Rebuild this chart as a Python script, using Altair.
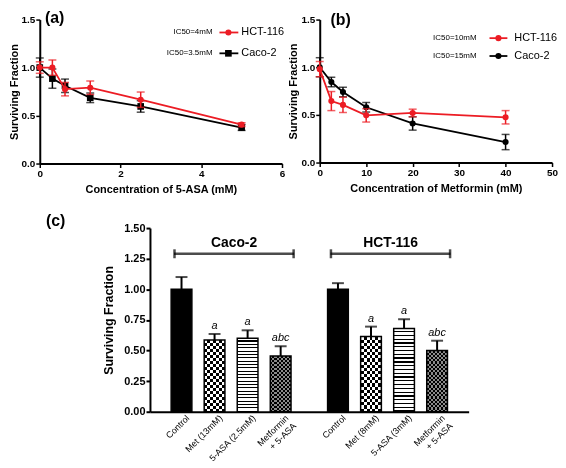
import altair as alt
import pandas as pd

FONT = "Liberation Sans"
RED = "#ec1c24"

# ---------------- data ----------------
# (a) 5-ASA
asa_conc = [0, 0.3125, 0.625, 1.25, 2.5, 5]
asa_hct = [1.00, 1.00, 0.775, 0.79, 0.665, 0.405]
asa_hct_err = [0.06, 0.08, 0.07, 0.07, 0.08, 0.02]
asa_caco = [1.00, 0.885, 0.81, 0.685, 0.595, 0.375]
asa_caco_err = [0.10, 0.10, 0.07, 0.05, 0.06, 0.03]

# (b) Metformin
met_conc = [0, 2.5, 5, 10, 20, 40]
met_hct = [0.98, 0.645, 0.605, 0.495, 0.52, 0.475]
met_hct_err = [0.08, 0.10, 0.08, 0.07, 0.04, 0.07]
met_caco = [1.00, 0.845, 0.74, 0.58, 0.41, 0.215]
met_caco_err = [0.10, 0.05, 0.05, 0.05, 0.07, 0.08]

# (c) combination
lines_c = ["Caco-2", "HCT-116"]
treat_labels_caco = ["Control", "Met (13mM)", "5-ASA (2.5mM)", "Metformin\n+ 5-ASA"]
treat_labels_hct = ["Control", "Met (8mM)", "5-ASA (3mM)", "Metformin\n+ 5-ASA"]
caco_vals = [1.00, 0.585, 0.60, 0.455]
caco_errs = [0.10, 0.05, 0.065, 0.08]
hct_vals = [1.00, 0.615, 0.68, 0.50]
hct_errs = [0.05, 0.08, 0.075, 0.08]
sig_letters = ["", "a", "a", "abc"]


# ---------------- helpers ----------------
def err_df(conc, vals, errs, name):
    return pd.DataFrame({
        "conc": conc,
        "value": vals,
        "lo": [v - e for v, e in zip(vals, errs)],
        "hi": [v + e for v, e in zip(vals, errs)],
        "line": name,
    })


def one(text):
    return pd.DataFrame({"t": [text]})


def line_panel(conc, series, W, H, xdom, xticks, xtitle, tag, tag_xy, legend_rows, lg):
    def X(f):
        return alt.X(f + ":Q", scale=alt.Scale(domain=xdom, nice=False, zero=False),
                     axis=alt.Axis(values=xticks, format="d", title=xtitle,
                                   labelFontWeight="bold", labelFontSize=10, titleFontSize=11,
                                   titleFontWeight="bold", tickSize=4, tickWidth=1.5,
                                   domainWidth=2, labelPadding=1, titlePadding=5,
                                   labelFlush=False))

    def Y(f):
        return alt.Y(f + ":Q", scale=alt.Scale(domain=[0, 1.5], nice=False),
                     axis=alt.Axis(values=[0, 0.5, 1.0, 1.5], format=".1f",
                                   title="Surviving Fraction",
                                   labelFontWeight="bold", labelFontSize=10, titleFontSize=11,
                                   titleFontWeight="bold", tickSize=4, tickWidth=1.5,
                                   domainWidth=2, labelPadding=1, titlePadding=2))

    layers = []
    for name, vals, errs, color, shape, psize in series:
        base = alt.Chart(err_df(conc, vals, errs, name))
        layers.append(base.mark_rule(color=color, strokeWidth=1.5).encode(x=X("conc"), y=Y("lo"), y2="hi:Q"))
        layers.append(base.mark_tick(orient="horizontal", size=8, thickness=1.5, color=color)
                      .encode(x=X("conc"), y=Y("lo")))
        layers.append(base.mark_tick(orient="horizontal", size=8, thickness=1.5, color=color)
                      .encode(x=X("conc"), y=Y("hi")))
        layers.append(base.mark_line(color=color, strokeWidth=1.8).encode(x=X("conc"), y=Y("value")))
        layers.append(base.mark_point(filled=True, shape=shape, size=psize, color=color, opacity=1)
                      .encode(x=X("conc"), y=Y("value")))

    # panel tag
    layers.append(alt.Chart(one(tag)).mark_text(font=FONT, fontSize=16, fontWeight="bold",
                                                align="center", baseline="middle", color="black")
                  .encode(text="t:N", x=alt.value(tag_xy[0]), y=alt.value(tag_xy[1])))

    # legend
    for (ic, name, color, shape, psize), ly in zip(legend_rows, lg["rows"]):
        layers.append(alt.Chart(one(ic)).mark_text(font=FONT, fontSize=8, align="right",
                                                   baseline="middle", color="black")
                      .encode(text="t:N", x=alt.value(lg["ic"]), y=alt.value(ly)))
        layers.append(alt.Chart(one(name)).mark_rule(color=color, strokeWidth=1.8)
                      .encode(x=alt.value(lg["l1"]), x2=alt.value(lg["l2"]), y=alt.value(ly)))
        layers.append(alt.Chart(one(name)).mark_point(filled=True, shape=shape, size=psize,
                                                      color=color, opacity=1)
                      .encode(x=alt.value(lg["m"]), y=alt.value(ly)))
        layers.append(alt.Chart(one(name)).mark_text(font=FONT, fontSize=11, align="left",
                                                     baseline="middle", color="black")
                      .encode(text="t:N", x=alt.value(lg["n"]), y=alt.value(ly)))

    return alt.layer(*layers).properties(width=W, height=H)


# ---------------- panel (a) ----------------
A_W, A_H = 244, 145
panel_a = line_panel(
    asa_conc,
    [("Caco-2", asa_caco, asa_caco_err, "black", "square", 45),
     ("HCT-116", asa_hct, asa_hct_err, RED, "circle", 38)],
    A_W, A_H, [0, 6], [0, 2, 4, 6], "Concentration of 5-ASA (mM)",
    "(a)", (15, -2),
    [("IC50=4mM", "HCT-116", RED, "circle", 38),
     ("IC50=3.5mM", "Caco-2", "black", "square", 45)],
    {"rows": [13, 34], "ic": A_W - 70, "l1": A_W - 63, "l2": A_W - 44, "m": A_W - 54, "n": A_W - 41},
)

# ---------------- panel (b) ----------------
B_W, B_H = 234, 144
panel_b = line_panel(
    met_conc,
    [("Caco-2", met_caco, met_caco_err, "black", "circle", 38),
     ("HCT-116", met_hct, met_hct_err, RED, "circle", 38)],
    B_W, B_H, [0, 50], [0, 10, 20, 30, 40, 50], "Concentration of Metformin (mM)",
    "(b)", (21, 0),
    [("IC50=10mM", "HCT-116", RED, "circle", 38),
     ("IC50=15mM", "Caco-2", "black", "circle", 38)],
    {"rows": [18.7, 36.7], "ic": B_W - 76, "l1": B_W - 63, "l2": B_W - 45, "m": B_W - 54, "n": B_W - 38},
)

# ---------------- panel (c) ----------------
rows = []
for line, labels, vals, errs in [("Caco-2", treat_labels_caco, caco_vals, caco_errs),
                                 ("HCT-116", treat_labels_hct, hct_vals, hct_errs)]:
    for i, (lab, v, e) in enumerate(zip(labels, vals, errs)):
        rows.append({"line": line, "treat": i, "label": lab, "value": v, "hi": v + e,
                     "sig": sig_letters[i]})
dc = pd.DataFrame(rows)

C_W, C_H = 321, 185

XC = alt.X("line:N", scale=alt.Scale(domain=lines_c, paddingInner=0.155, paddingOuter=0.096),
           axis=alt.Axis(labels=False, ticks=False, title=None, domainWidth=2, domainColor="black"))
XO = alt.XOffset("treat:O", scale=alt.Scale(domain=[0, 1, 2, 3], paddingInner=0.373, paddingOuter=0.1866))

YC_SCALE = alt.Scale(domain=[0, 1.5], nice=False)
YC_AXIS = alt.Axis(values=[0, 0.25, 0.5, 0.75, 1.0, 1.25, 1.5], format=".2f",
                   title="Surviving Fraction", labelFontWeight="bold", labelFontSize=11,
                   titleFontSize=12.5, titleFontWeight="bold", tickSize=4, tickWidth=2,
                   domainWidth=2, labelPadding=1, titlePadding=8)


def YC(f):
    return alt.Y(f + ":Q", scale=YC_SCALE, axis=YC_AXIS)


BRACKET_Y = alt.YDatum(1.29, scale=YC_SCALE, axis=YC_AXIS)


def stripes(colors, n, horizontal=True):
    stops = []
    for k in range(n):
        c = colors[k % len(colors)]
        stops.append(alt.GradientStop(color=c, offset=k / n))
        stops.append(alt.GradientStop(color=c, offset=(k + 1) / n))
    if horizontal:
        return alt.LinearGradient(gradient="linear", stops=stops, x1=0, x2=0, y1=0, y2=1)
    return alt.LinearGradient(gradient="linear", stops=stops, x1=0, x2=1, y1=0, y2=0)


CLEAR = "rgba(0,0,0,0)"
cbase = alt.Chart(dc)
enc = dict(x=XC, xOffset=XO, y=YC("value"))
c_layers = [
    cbase.transform_filter("datum.treat == 0").mark_bar(color="black").encode(**enc),
    cbase.transform_filter("datum.treat == 1").mark_bar(fill=stripes(["black", "white"], 24)).encode(**enc),
    cbase.transform_filter("datum.treat == 1").mark_bar(fill=stripes(["white", CLEAR], 7, False),
                                                       blend="difference").encode(**enc),
    cbase.transform_filter("datum.treat == 2").mark_bar(fill=stripes(["white", "white", "black"], 66)).encode(**enc),
    cbase.transform_filter("datum.treat == 3").mark_bar(fill=stripes(["black", "#8c8c8c"], 28)).encode(**enc),
    cbase.transform_filter("datum.treat == 3").mark_bar(fill=stripes(["#8c8c8c", CLEAR], 10, False),
                                                       blend="difference").encode(**enc),
    cbase.mark_bar(fillOpacity=0, stroke="black", strokeWidth=1.5).encode(**enc),
    cbase.mark_rule(color="black", strokeWidth=2).encode(x=XC, xOffset=XO, y=YC("value"), y2="hi:Q"),
    cbase.mark_tick(orient="horizontal", size=12, thickness=2, color="black")
    .encode(x=XC, xOffset=XO, y=YC("hi")),
    cbase.mark_text(font=FONT, fontStyle="italic", fontSize=11, dy=-8, baseline="middle", color="black")
    .encode(x=XC, xOffset=XO, y=YC("hi"), text="sig:N"),
    cbase.mark_text(font=FONT, fontSize=9, angle=315, align="right", baseline="middle",
                    dx=1, dy=8, lineBreak="\n", color="black")
    .encode(x=XC, xOffset=XO, y=alt.value(C_H), text="label:N"),
]

bk = alt.Chart(pd.DataFrame({"line": lines_c}))
c_layers += [
    bk.mark_tick(orient="horizontal", size=121, thickness=2.5, color="black", xOffset=3)
    .encode(x=XC, y=BRACKET_Y),
    bk.mark_tick(orient="vertical", size=9, thickness=2.5, color="black", xOffset=3 - 60)
    .encode(x=XC, y=BRACKET_Y),
    bk.mark_tick(orient="vertical", size=9, thickness=2.5, color="black", xOffset=3 + 60)
    .encode(x=XC, y=BRACKET_Y),
    bk.mark_text(font=FONT, fontSize=14, fontWeight="bold", dy=-11, baseline="middle",
                 color="black", xOffset=3)
    .encode(x=XC, y=BRACKET_Y, text="line:N"),
    alt.Chart(one("(c)")).mark_text(font=FONT, fontSize=16, fontWeight="bold", align="center",
                                    baseline="middle", color="black")
    .encode(text="t:N", x=alt.value(-95), y=alt.value(-7)),
]
panel_c = alt.layer(*c_layers).properties(width=C_W, height=C_H)

spacer = alt.Chart(one("")).mark_point(opacity=0, size=1).encode(x=alt.value(1), y=alt.value(1)).properties(
    width=6, height=10)

top = alt.hconcat(panel_a, panel_b, spacing=3)
bottom = alt.hconcat(spacer, panel_c, spacing=0)
chart = alt.vconcat(top, bottom, spacing=19).properties(padding=0).configure_view(
    stroke=None
).configure_axis(
    grid=False, labelFont=FONT, titleFont=FONT, labelColor="black", titleColor="black",
    domainColor="black", tickColor="black"
)

chart.save("out.html", embed_options={"renderer": "svg", "actions": False})
